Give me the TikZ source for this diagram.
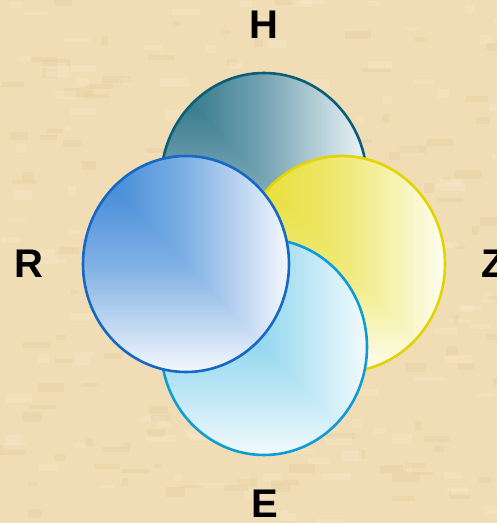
\documentclass[tikz,border=0pt]{standalone}
\usepackage{fontspec}
\setmainfont{Liberation Sans}
\usetikzlibrary{shapes.geometric}
\definecolor{parch}{HTML}{F0DDB5}
\definecolor{parchD}{HTML}{E2C99A}
\definecolor{parchL}{HTML}{F8EBCB}
\definecolor{hDark}{HTML}{1F6A80}
\definecolor{hLight}{HTML}{EEF5F8}
\definecolor{hLine}{HTML}{0A5F78}
\definecolor{rDark}{HTML}{3080D4}
\definecolor{rLight}{HTML}{F4F7FC}
\definecolor{rLine}{HTML}{1568C4}
\definecolor{zDark}{HTML}{E6DC28}
\definecolor{zLight}{HTML}{FDFDF0}
\definecolor{zLine}{HTML}{E2D400}
\definecolor{eDark}{HTML}{78CDEB}
\definecolor{eLight}{HTML}{F2FAFD}
\definecolor{eLine}{HTML}{0E9CD6}
\tikzset{
  gradell/.style n args={4}{ellipse, inner sep=0pt, minimum width=206pt, minimum height=216pt,
    draw=#3, line width=2.6pt,
    path picture={
      \shade[left color=#1, right color=#2, middle color=#1!#4!#2]
        (path picture bounding box.south west) rectangle (path picture bounding box.north east);
      \shade[top color=#1, bottom color=#2, middle color=#1!#4!#2]
        (path picture bounding box.north west) -- (path picture bounding box.south east)
        -- (path picture bounding box.south west) -- cycle;
    }},
  letter/.style={inner sep=0pt, font=\fontsize{40}{40}\selectfont\bfseries, text=black}
}
\begin{document}
\begin{tikzpicture}[x=1pt,y=1pt]
\useasboundingbox (0,0) rectangle (497,523);
\fill[parch] (0,0) rectangle (497,523);
\pgfmathsetseed{7}
\foreach \i in {1,...,320}{
  \pgfmathsetmacro{\xx}{rnd*497}
  \pgfmathsetmacro{\yy}{rnd*523}
  \pgfmathsetmacro{\ww}{6+rnd*24}
  \pgfmathsetmacro{\hh}{3+rnd*7}
  \pgfmathsetmacro{\cc}{rnd}
  \ifdim\cc pt<0.5pt
    \fill[parchD, opacity=0.28] (\xx,\yy) rectangle ++(\ww,\hh);
  \else
    \fill[parchL, opacity=0.35] (\xx,\yy) rectangle ++(\ww,\hh);
  \fi
}
\node[gradell={hDark}{hLight}{hLine}{58}] (h) at (264,342) {};
\node[gradell={zDark}{zLight}{zLine}{62}] (z) at (342,259) {};
\node[gradell={eDark}{eLight}{eLine}{75}] (e) at (264,176) {};
\node[gradell={rDark}{rLight}{rLine}{60}] (r) at (186,259) {};
\node[letter] (lh) at (264,498) {H};
\node[letter] (lr) at (29,259) {R};
\node[letter] (lz) at (494,259) {Z};
\node[letter] (le) at (264.5,19) {E};
\end{tikzpicture}
\end{document}
